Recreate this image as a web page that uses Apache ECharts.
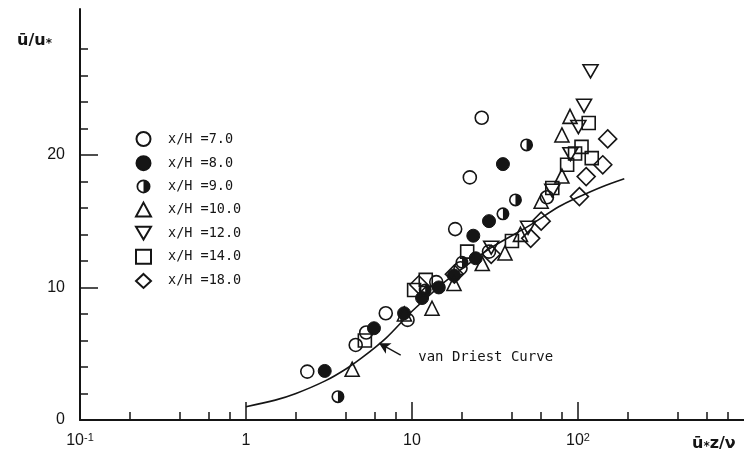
<!DOCTYPE html>
<html><head><meta charset="utf-8">
<script src="https://cdn.jsdelivr.net/npm/echarts@6/dist/echarts.min.js"></script>
<style>html,body{margin:0;padding:0;background:#fff}#c{width:744px;height:452px}</style>
</head><body><div id="c"></div>
<script>
// ---- data ----
const seriesNames = ['x/H =7.0','x/H =8.0','x/H =9.0','x/H =10.0','x/H =12.0','x/H =14.0','x/H =18.0'];

const h7x = [2.34, 4.58, 5.3, 6.95, 9.4, 14.0, 19.6, 18.2, 22.3, 26.3, 29.1, 65];
const h7y = [3.65, 5.66, 6.6, 8.05, 7.55, 10.4, 11.45, 14.4, 18.3, 22.8, 12.7, 16.8];

const h8x = [2.98, 5.9, 8.96, 11.5, 14.5, 17.9, 24.2, 23.4, 29.1, 35.3];
const h8y = [3.7, 6.92, 8.05, 9.2, 10.0, 10.9, 12.2, 13.9, 15.0, 19.3];

const h9x = [3.58, 12.0, 20.0, 35.3, 42, 49];
const h9y = [1.76, 9.8, 11.9, 15.55, 16.6, 20.75];

const h10x = [4.36, 9.0, 13.2, 17.9, 26.5, 36.3, 45, 60, 80, 80, 89.5];
const h10y = [3.83, 8.0, 8.43, 10.3, 11.8, 12.6, 14.0, 16.5, 18.4, 21.5, 22.9];

const h12x = [30, 50, 70, 90, 100.5, 108.7, 119];
const h12y = [13.0, 14.5, 17.3, 20.05, 22.1, 23.7, 26.3];

const h14x = [5.2, 10.3, 12.1, 21.5, 40, 70, 86, 96, 105, 116, 121];
const h14y = [6.0, 9.8, 10.57, 12.7, 13.5, 17.5, 19.25, 20.1, 20.6, 22.4, 19.75];

const h18x = [11, 18, 30, 51.9, 60, 102, 112, 141, 151];
const h18y = [10.2, 11.0, 12.5, 13.7, 15.0, 16.85, 18.36, 19.25, 21.2];

const curveX = [1, 1.5, 2, 3, 4, 5, 7, 10, 15, 20, 30, 50, 77, 100, 140, 190];
const curveY = [1.0, 1.5, 2.0, 2.95, 3.85, 4.7, 6.2, 8.2, 10.2, 11.4, 13.0, 14.6, 16.1, 16.8, 17.6, 18.2];

const xMajorTicks = [1, 10, 100];
const xMinorTicks = [0.2,0.4,0.6,0.8, 2,4,6,8, 20,40,60,80, 200,400,600,800];
const xLabelValues = [0.1, 1, 10, 100];
const xLabelTexts = ['{n|10}{e|-1}', '{n|1}', '{n|10}', '{n|10}{e|2}'];
const yMajorTicks = [10, 20];
const yMinorTicks = [2,4,6,8,12,14,16,18,22,24,26,28];
const yLabelValues = [0, 10, 20];

const arrowFrom = [8.55, 4.9];
const arrowTo = [6.33, 5.79];
const curveLabelAt = [10.9, 4.7];

// ---- chart ----
const INK = '#151515';
const zip = (xs, ys) => xs.map((x, i) => [x, ys[i]]);
const halfCircle = 'path://M12,0 A12,12 0 1,1 12,24 A12,12 0 1,1 12,0 Z M12,3 A9,9 0 1,0 12,21 A9,9 0 1,0 12,3 Z M12,3 A9,9 0 0,1 12,21 Z';
const downTri = 'path://M0,0 L20,0 L10,17 Z';

const hollow = {color: 'rgba(255,255,255,0)', borderColor: INK, borderWidth: 1.6, opacity: 1};
const specs = [
  {d: zip(h7x, h7y), symbol: 'circle', size: 13, style: hollow},
  {d: zip(h8x, h8y), symbol: 'circle', size: 13, style: {color: INK, borderColor: INK, borderWidth: 1, opacity: 1}},
  {d: zip(h9x, h9y), symbol: halfCircle, size: 13, style: {color: INK, borderWidth: 0, opacity: 1}},
  {d: zip(h10x, h10y), symbol: 'triangle', size: 14, style: hollow},
  {d: zip(h12x, h12y), symbol: downTri, size: [15, 13], style: hollow},
  {d: zip(h14x, h14y), symbol: 'rect', size: 13, style: hollow},
  {d: zip(h18x, h18y), symbol: 'diamond', size: 18, style: hollow}
];

const series = specs.map((s, i) => ({
  name: seriesNames[i], type: 'scatter', data: s.d,
  symbol: s.symbol, symbolSize: s.size, itemStyle: s.style,
  xAxisIndex: 0, yAxisIndex: 0, z: 3
}));

series.push({
  name: 'van Driest', type: 'line', data: zip(curveX, curveY),
  showSymbol: false, smooth: 0.3, lineStyle: {color: INK, width: 1.6}, z: 2,
  markLine: {
    silent: true, symbol: ['none', 'arrow'], symbolSize: [9, 11],
    lineStyle: {color: INK, width: 1.4, type: 'solid'}, label: {show: false},
    data: [[{coord: arrowFrom}, {coord: arrowTo}]]
  },
  markPoint: {
    silent: true, symbol: 'circle', symbolSize: 0,
    data: [{coord: curveLabelAt}],
    label: {show: true, position: 'right', distance: 0, formatter: 'van Driest Curve',
      color: INK, fontFamily: 'DejaVu Sans Mono', fontSize: 14}
  }
});

const axisFont = {fontFamily: 'Liberation Sans', color: INK};
const xRich = {n: {fontSize: 16, ...axisFont, lineHeight: 18}, e: {fontSize: 11, ...axisFont, verticalAlign: 'top', lineHeight: 18, padding: [0,0,8,0]}};

const option = {
  animation: false,
  backgroundColor: '#fff',
  grid: {left: 80, right: -1, top: 9, bottom: 32, containLabel: false},
  legend: {
    orient: 'vertical', left: 130, top: 126, itemGap: 8.2, itemWidth: 15, itemHeight: 14,
    data: seriesNames,
    textStyle: {fontFamily: 'DejaVu Sans Mono', fontSize: 13.5, color: INK, padding: [0,0,0,12]}
  },
  title: [
    {text: '{a|ū/u}{s|*}', left: 12, top: 27,
      textStyle: {rich: {a: {fontSize: 16, fontFamily: 'DejaVu Sans', color: INK, lineHeight: 18},
        s: {fontSize: 12, fontFamily: 'DejaVu Sans', color: INK, verticalAlign: 'bottom', lineHeight: 18, padding: [8,0,0,0]}}}},
    {text: '{a|ū}{s|*}{a|z/ν}', left: 687, top: 430,
      textStyle: {rich: {a: {fontSize: 16, fontWeight: 'bold', fontFamily: 'DejaVu Sans', color: INK, lineHeight: 18},
        s: {fontSize: 12, fontWeight: 'bold', fontFamily: 'DejaVu Sans', color: INK, verticalAlign: 'bottom', lineHeight: 18, padding: [8,0,0,0]}}}}
  ],
  xAxis: [
    {type: 'log', logBase: 10, min: 0.1, max: 1000, position: 'bottom', offset: 0,
      axisLine: {show: true, lineStyle: {color: INK, width: 2}},
      axisTick: {show: true, inside: true, length: 8, lineStyle: {color: INK, width: 1.5}, customValues: xMinorTicks},
      axisLabel: {show: true, margin: 12, customValues: xLabelValues,
        formatter: v => { const i = xLabelValues.findIndex(t => Math.abs(Math.log10(t) - Math.log10(v)) < 1e-6); return i >= 0 ? xLabelTexts[i] : ''; },
        rich: xRich},
      splitLine: {show: false}, minorTick: {show: false}},
    {type: 'log', logBase: 10, min: 0.1, max: 1000, position: 'bottom', offset: 0,
      axisLine: {show: false},
      axisTick: {show: true, inside: true, length: 18, lineStyle: {color: INK, width: 1.5}, customValues: xMajorTicks},
      axisLabel: {show: false}, splitLine: {show: false}}
  ],
  yAxis: [
    {type: 'value', min: 0, max: 31, position: 'left', offset: 0,
      axisLine: {show: true, lineStyle: {color: INK, width: 2}},
      axisTick: {show: true, inside: true, length: 8, lineStyle: {color: INK, width: 1.5}, customValues: yMinorTicks},
      axisLabel: {show: true, margin: 15, customValues: yLabelValues, fontSize: 16, ...axisFont},
      splitLine: {show: false}},
    {type: 'value', min: 0, max: 31, position: 'left', offset: 0,
      axisLine: {show: false},
      axisTick: {show: true, inside: true, length: 18, lineStyle: {color: INK, width: 1.5}, customValues: yMajorTicks},
      axisLabel: {show: false}, splitLine: {show: false}}
  ],
  series: series
};

const chart = echarts.init(document.getElementById('c'), null, {renderer: 'canvas'});
chart.setOption(option);
</script>
</body></html>
